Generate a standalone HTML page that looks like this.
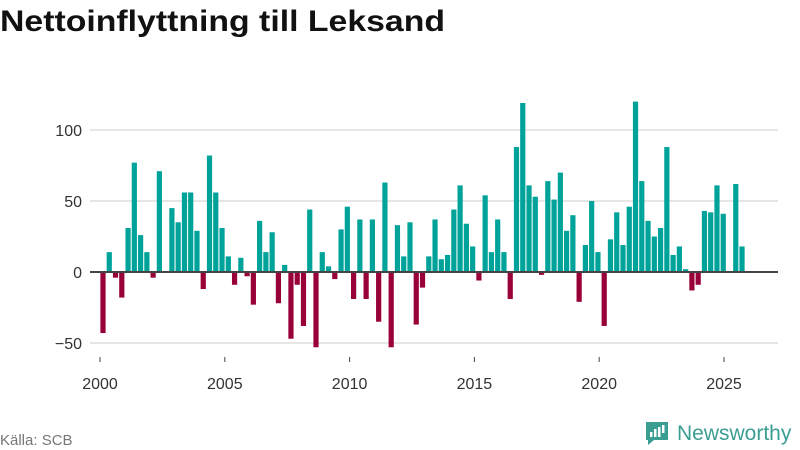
<!DOCTYPE html>
<html><head><meta charset="utf-8"><style>
body{margin:0;background:#fff;font-family:"Liberation Sans",sans-serif}
#wrap{position:relative;width:800px;height:450px;overflow:hidden}
</style></head><body>
<div id="wrap">
<svg id="chart" width="800" height="450">
<text x="0" y="31" font-size="30" font-weight="bold" fill="#111" textLength="445" lengthAdjust="spacingAndGlyphs">Nettoinflyttning till Leksand</text>
<g id="grid"></g>
<g id="bars"></g>
<g id="xaxis"></g>
<text x="0" y="445" font-size="15" fill="#777">Källa: SCB</text>
<g>
<path d="M646 422h22v18h-14l-6 5v-5h-2z" fill="#3a9e93"/>
<rect x="650" y="432" width="2.5" height="5" fill="#fff"/><rect x="654" y="429" width="2.5" height="8" fill="#fff"/><rect x="658" y="427" width="2.5" height="10" fill="#fff"/><rect x="662" y="425" width="2.5" height="8" fill="#fff"/>
<text x="677" y="440" font-size="21" fill="#3a9e93">Newsworthy</text>
</g>
</svg>
</div>
<script>
const yTicks=[-50,0,50,100];
const xTickYears=[2000,2005,2010,2015,2020,2025];
const startYear=2000;
const values=[
-43,14,-4,-18, 31,77,26,14, -4,71,0,45, 35,56,56,29, -12,82,56,31,
11,-9,10,-3, -23,36,14,28, -22,5,-47,-9, -38,44,-53,14, 4,-5,30,46,
-19,37,-19,37, -35,63,-53,33, 11,35,-37,-11, 11,37,9,12, 44,61,34,18,
-6,54,14,37, 14,-19,88,119, 61,53,-2,64, 51,70,29,40, -21,19,50,14,
-38,23,42,19, 46,120,64,36, 25,31,88,12, 18,2,-13,-9, 43,42,61,41,
0,62,18];
const NS="http://www.w3.org/2000/svg";
const y=v=>272-v*1.42;
const x=t=>100+(t-2000)*24.96;
const xq=i=>103+i*6.265;
const grid=document.getElementById('grid');
yTicks.forEach(t=>{
 const l=document.createElementNS(NS,'line');
 l.setAttribute('x1',90);l.setAttribute('x2',778);l.setAttribute('y1',y(t));l.setAttribute('y2',y(t));
 l.setAttribute('stroke','#ddd');l.setAttribute('stroke-width',1.5);
 
 
 if(t!==0)grid.appendChild(l);
 const tx=document.createElementNS(NS,'text');
 tx.setAttribute('x',82);tx.setAttribute('y',y(t)+6);tx.setAttribute('text-anchor','end');
 tx.setAttribute('font-size',16);tx.setAttribute('fill','#333');
 tx.textContent=t<0?'\u2212'+Math.abs(t):t;
 
 
 grid.appendChild(tx);
});
const bars=document.getElementById('bars');
values.forEach((v,i)=>{
 const cx=xq(i);
 const r=document.createElementNS(NS,'rect');
 r.setAttribute('x',cx-2.6);r.setAttribute('width',5.2);
 r.setAttribute('y',Math.min(y(v),y(0)));r.setAttribute('height',Math.abs(y(v)-y(0)));
 r.setAttribute('fill',v>=0?'#00a39a':'#990039');
 
 
 bars.appendChild(r);
});
const zl=document.createElementNS(NS,'line');
zl.setAttribute('x1',90);zl.setAttribute('x2',778);zl.setAttribute('y1',y(0));zl.setAttribute('y2',y(0));
zl.setAttribute('stroke','#444');zl.setAttribute('stroke-width',2);


bars.appendChild(zl);
const xa=document.getElementById('xaxis');
xTickYears.forEach(yr=>{
 const l=document.createElementNS(NS,'line');
 l.setAttribute('x1',x(yr));l.setAttribute('x2',x(yr));l.setAttribute('y1',357);l.setAttribute('y2',362);
 l.setAttribute('stroke','#444');
 
 
 xa.appendChild(l);
 const t=document.createElementNS(NS,'text');
 t.setAttribute('x',x(yr));t.setAttribute('y',389);t.setAttribute('text-anchor','middle');
 t.setAttribute('font-size',16);t.setAttribute('fill','#333');t.textContent=yr;
 
 
 xa.appendChild(t);
});
</script>
</body></html>
